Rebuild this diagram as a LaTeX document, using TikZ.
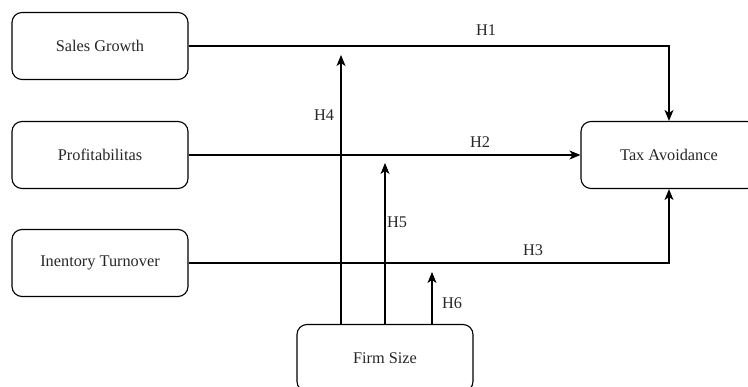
\documentclass[tikz,border=0pt]{standalone}
\usepackage{fontspec}
\setmainfont{Liberation Serif}
\usetikzlibrary{arrows.meta}
\begin{document}
\begin{tikzpicture}[x=1pt,y=-1pt,
  box/.style={draw,line width=1.1pt,rounded corners=10pt,minimum width=176pt,minimum height=67pt,inner sep=0pt,font=\fontsize{16.3}{19}\selectfont,text=black!85},
  conn/.style={line width=1.1pt,-{Stealth[length=11pt,width=9pt,inset=3pt]}},
  lbl/.style={font=\fontsize{16.3}{19}\selectfont,text=black!85,inner sep=0pt}]
\useasboundingbox (0,0) rectangle (748,387);
\node[box] (sg) at (100,46) {Sales Growth};
\node[box] (pr) at (100,155) {Profitabilitas};
\node[box] (it) at (100,263) {Inentory Turnover};
\node[box] (ta) at (669,155) {Tax Avoidance};
\node[box] (fs) at (385,358) {Firm Size};
\coordinate (h4) at (341,55);
\coordinate (h5) at (385,163);
\coordinate (h6) at (432,272);
\draw[conn] (sg.east) -| (ta.north);
\draw[conn] (pr.east) -- (ta.west);
\draw[conn] (it.east) -| (ta.south);
\draw[conn] (fs.north -| h4) -- (h4);
\draw[conn] (fs.north -| h5) -- (h5);
\draw[conn] (fs.north -| h6) -- (h6);
\node[lbl] (l1) at (486,30) {H1};
\node[lbl] (l2) at (480,142) {H2};
\node[lbl] (l3) at (533,250) {H3};
\node[lbl] (l4) at (324,115) {H4};
\node[lbl] (l5) at (397,222) {H5};
\node[lbl] (l6) at (452,303) {H6};
\end{tikzpicture}
\end{document}
